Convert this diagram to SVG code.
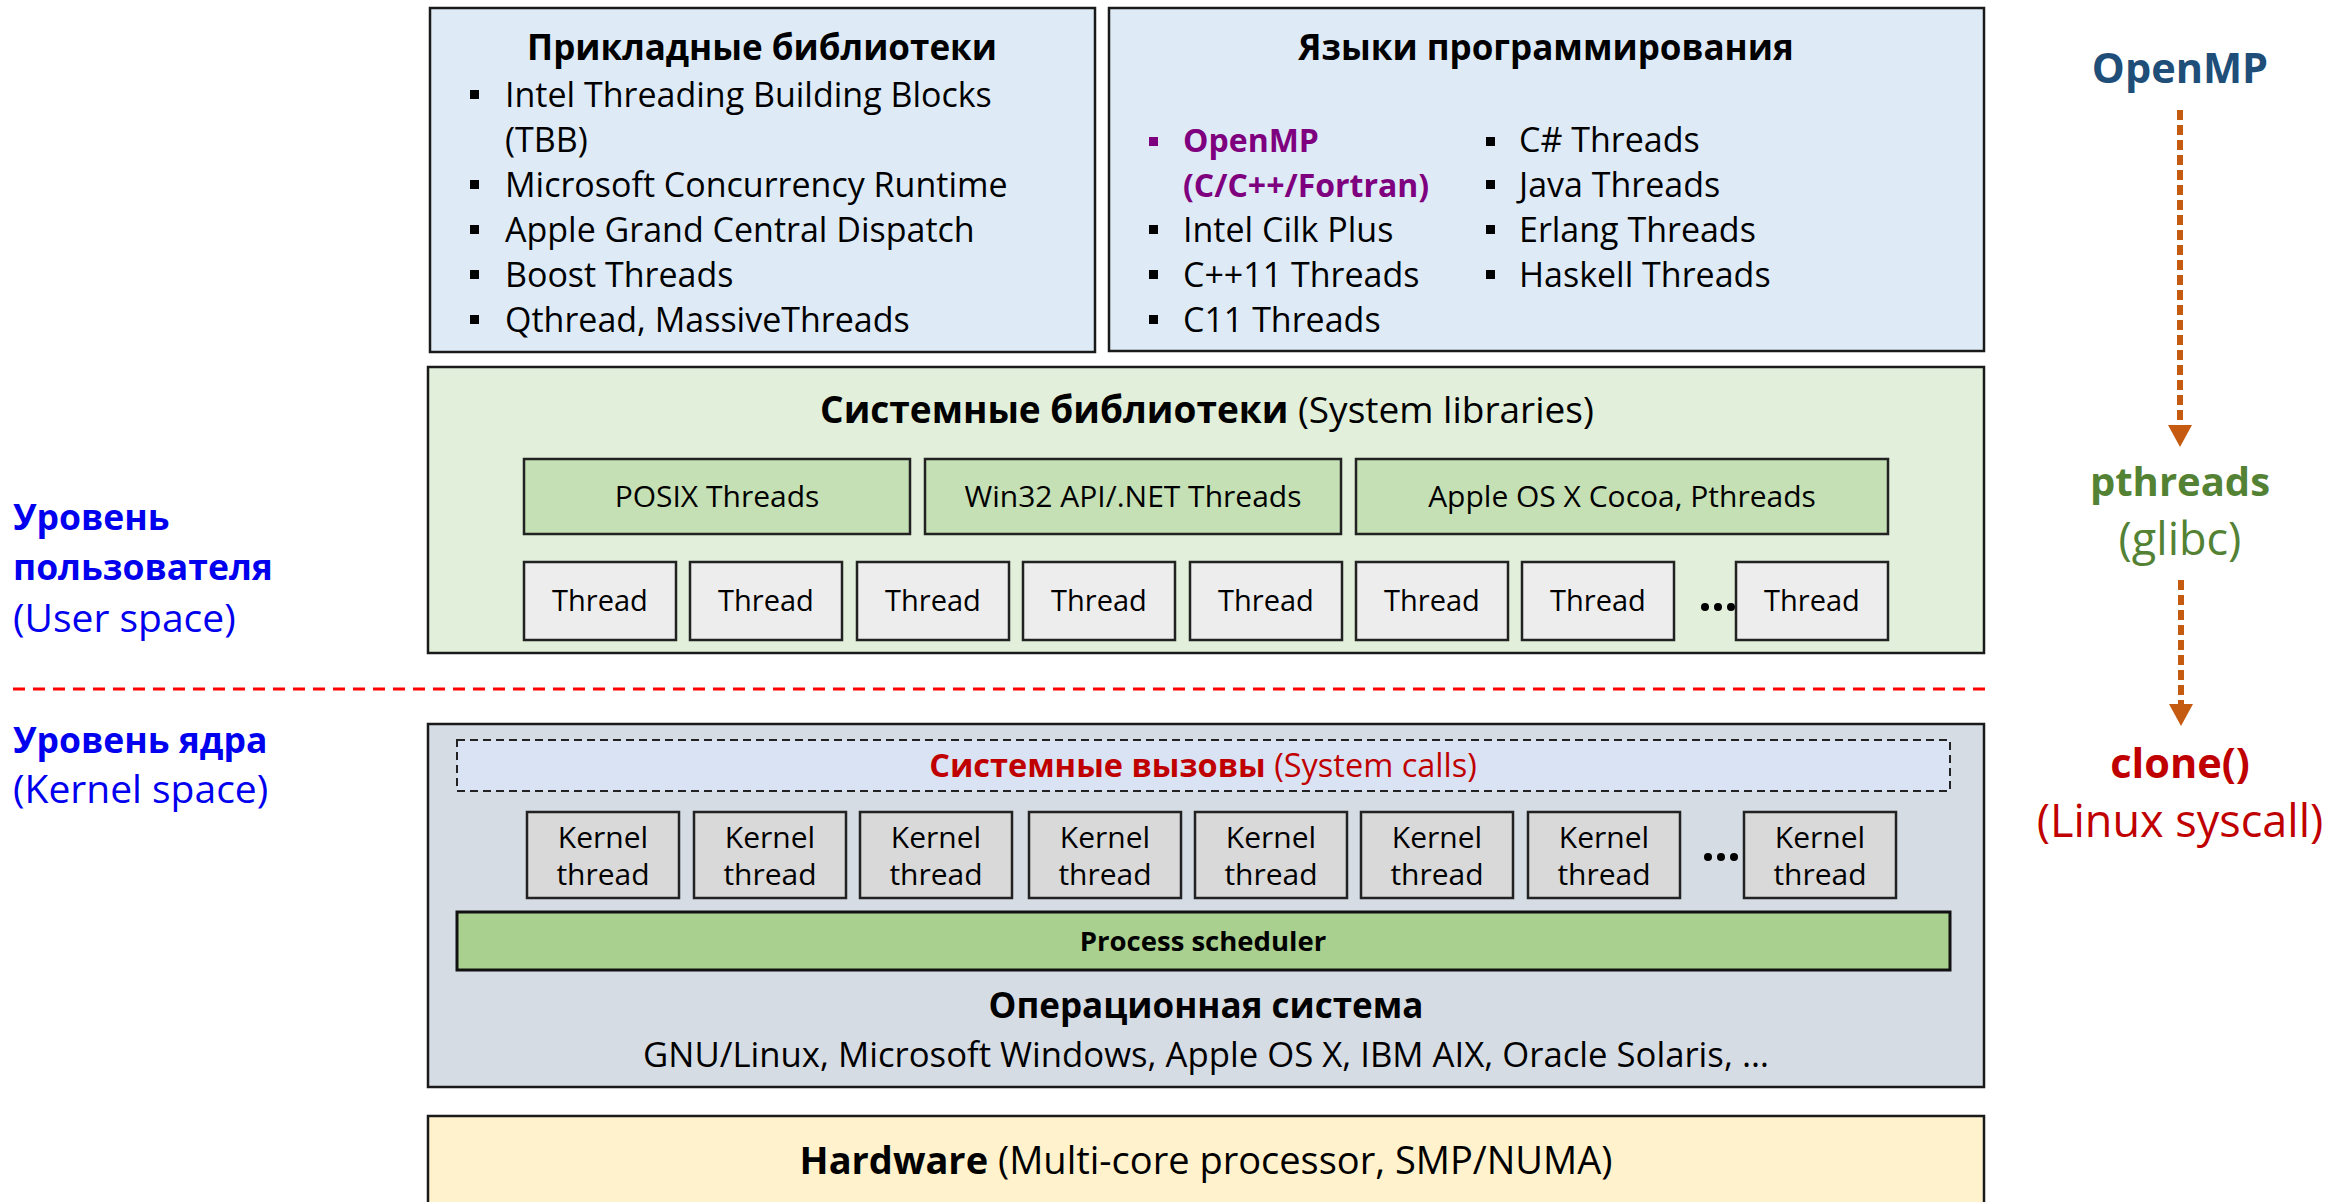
<svg xmlns="http://www.w3.org/2000/svg" width="2349" height="1202" viewBox="0 0 2349 1202">
<defs>
<style>
text{font-family:"Open Sans","Noto Sans","DejaVu Sans",sans-serif;fill:#000}
.box{stroke:#1a1a1a;stroke-width:2.5}
.blue{fill:#DEEBF7}
.green{fill:#E2EFDA}
.gbtn{fill:#C5E0B4;stroke:#222;stroke-width:2.5}
.thr{fill:#EDEDED;stroke:#222;stroke-width:2.5}
.kthr{fill:#D9D9D9;stroke:#222;stroke-width:2.5}
.h{font-size:35px;font-weight:bold}
.li{font-size:34px}
.lip{font-size:32px;font-weight:bold;fill:#7F007F}
.c{text-anchor:middle}
.t{font-size:30px}
.tt{font-size:29px}
.lblb{font-size:35.5px;fill:#0000EE;font-weight:bold}
.lbl{font-size:39px;fill:#0000EE}
.b{font-weight:bold}
.bul{fill:#000}
</style>
</defs>

<g id="applibs">
<rect class="box blue" x="430" y="8" width="665" height="344"/>
<text class="h c" x="762" y="60">Прикладные библиотеки</text>
<rect class="bul" x="470" y="90" width="9" height="9"/><text class="li" x="505" y="107">Intel Threading Building Blocks</text>
<text class="li" x="505" y="152">(TBB)</text>
<rect class="bul" x="470" y="180" width="9" height="9"/><text class="li" x="505" y="197">Microsoft Concurrency Runtime</text>
<rect class="bul" x="470" y="225" width="9" height="9"/><text class="li" x="505" y="242">Apple Grand Central Dispatch</text>
<rect class="bul" x="470" y="270" width="9" height="9"/><text class="li" x="505" y="287">Boost Threads</text>
<rect class="bul" x="470" y="315" width="9" height="9"/><text class="li" x="505" y="332">Qthread, MassiveThreads</text>
</g>

<g id="langs">
<rect class="box blue" x="1109" y="8" width="875" height="343"/>
<text class="h c" x="1546" y="60">Языки программирования</text>
<rect x="1149" y="137" width="9" height="9" fill="#7F007F"/><text class="lip" x="1183" y="152">OpenMP</text>
<text class="lip" x="1183" y="197">(C/C++/Fortran)</text>
<rect class="bul" x="1149" y="225" width="9" height="9"/><text class="li" x="1183" y="242">Intel Cilk Plus</text>
<rect class="bul" x="1149" y="270" width="9" height="9"/><text class="li" x="1183" y="287">C++11 Threads</text>
<rect class="bul" x="1149" y="315" width="9" height="9"/><text class="li" x="1183" y="332">C11 Threads</text>
<rect class="bul" x="1486" y="137" width="9" height="9"/><text class="li" x="1519" y="152">C# Threads</text>
<rect class="bul" x="1486" y="180" width="9" height="9"/><text class="li" x="1519" y="197">Java Threads</text>
<rect class="bul" x="1486" y="225" width="9" height="9"/><text class="li" x="1519" y="242">Erlang Threads</text>
<rect class="bul" x="1486" y="270" width="9" height="9"/><text class="li" x="1519" y="287">Haskell Threads</text>
</g>

<g id="syslibs">
<rect class="box green" x="428" y="367" width="1556" height="286"/>
<text class="c" x="1207" y="423" style="font-size:37px"><tspan font-weight="bold">Системные библиотеки</tspan> (System libraries)</text>
</g>
<g id="posix"><rect class="gbtn" x="524" y="459" width="386" height="75"/><text class="t c" x="717" y="507">POSIX Threads</text></g>
<g id="win32"><rect class="gbtn" x="925" y="459" width="416" height="75"/><text class="t c" x="1133" y="507">Win32 API/.NET Threads</text></g>
<g id="apple"><rect class="gbtn" x="1356" y="459" width="532" height="75"/><text class="t c" x="1622" y="507">Apple OS X Cocoa, Pthreads</text></g>

<g id="threads">
<g id="thread1"><rect class="thr" x="524" y="562" width="152" height="78"/><text class="tt c" x="600" y="611">Thread</text></g>
<g id="thread2"><rect class="thr" x="690" y="562" width="152" height="78"/><text class="tt c" x="766" y="611">Thread</text></g>
<g id="thread3"><rect class="thr" x="857" y="562" width="152" height="78"/><text class="tt c" x="933" y="611">Thread</text></g>
<g id="thread4"><rect class="thr" x="1023" y="562" width="152" height="78"/><text class="tt c" x="1099" y="611">Thread</text></g>
<g id="thread5"><rect class="thr" x="1190" y="562" width="152" height="78"/><text class="tt c" x="1266" y="611">Thread</text></g>
<g id="thread6"><rect class="thr" x="1356" y="562" width="152" height="78"/><text class="tt c" x="1432" y="611">Thread</text></g>
<g id="thread7"><rect class="thr" x="1522" y="562" width="152" height="78"/><text class="tt c" x="1598" y="611">Thread</text></g>
<circle cx="1705" cy="607" r="4"/><circle cx="1718" cy="607" r="4"/><circle cx="1731" cy="607" r="4"/>
<g id="thread8"><rect class="thr" x="1736" y="562" width="152" height="78"/><text class="tt c" x="1812" y="611">Thread</text></g>
</g>

<g id="labels">
<text class="lblb" x="13" y="530">Уровень</text>
<text class="lblb" x="13" y="580">пользователя</text>
<text class="lbl" x="13" y="632">(User space)</text>
<text class="lblb" x="13" y="753">Уровень ядра</text>
<text class="lbl" x="13" y="803">(Kernel space)</text>
</g>

<g id="kernel">
<rect class="box" x="428" y="724" width="1556" height="363" fill="#D6DCE4"/>
<text class="c b" x="1206" y="1018" style="font-size:35px">Операционная система</text>
<text class="c" x="1206" y="1067" style="font-size:34.7px">GNU/Linux, Microsoft Windows, Apple OS X, IBM AIX, Oracle Solaris, …</text>
</g>
<g id="syscalls">
<rect x="457" y="740" width="1493" height="51" fill="#DAE3F3" stroke="#222" stroke-width="2" stroke-dasharray="8,5"/>
<text class="c" x="1203" y="777" style="font-size:32.5px;fill:#C00000"><tspan font-weight="bold" fill="#C00000">Системные вызовы</tspan> (System calls)</text>
</g>
<g id="kthreads">
<g id="kt1"><rect class="kthr" x="527" y="812" width="152" height="86"/><text class="t c" x="603" y="848">Kernel</text><text class="t c" x="603" y="885">thread</text></g>
<g id="kt2"><rect class="kthr" x="694" y="812" width="152" height="86"/><text class="t c" x="770" y="848">Kernel</text><text class="t c" x="770" y="885">thread</text></g>
<g id="kt3"><rect class="kthr" x="860" y="812" width="152" height="86"/><text class="t c" x="936" y="848">Kernel</text><text class="t c" x="936" y="885">thread</text></g>
<g id="kt4"><rect class="kthr" x="1029" y="812" width="152" height="86"/><text class="t c" x="1105" y="848">Kernel</text><text class="t c" x="1105" y="885">thread</text></g>
<g id="kt5"><rect class="kthr" x="1195" y="812" width="152" height="86"/><text class="t c" x="1271" y="848">Kernel</text><text class="t c" x="1271" y="885">thread</text></g>
<g id="kt6"><rect class="kthr" x="1361" y="812" width="152" height="86"/><text class="t c" x="1437" y="848">Kernel</text><text class="t c" x="1437" y="885">thread</text></g>
<g id="kt7"><rect class="kthr" x="1528" y="812" width="152" height="86"/><text class="t c" x="1604" y="848">Kernel</text><text class="t c" x="1604" y="885">thread</text></g>
<circle cx="1708" cy="857" r="4"/><circle cx="1721" cy="857" r="4"/><circle cx="1734" cy="857" r="4"/>
<g id="kt8"><rect class="kthr" x="1744" y="812" width="152" height="86"/><text class="t c" x="1820" y="848">Kernel</text><text class="t c" x="1820" y="885">thread</text></g>
</g>
<g id="scheduler">
<rect x="457" y="912" width="1493" height="58" fill="#A9D08E" stroke="#111" stroke-width="3"/>
<text class="c b" x="1203" y="951" style="font-size:27.5px">Process scheduler</text>
</g>

<g id="hardware">
<rect class="box" x="428" y="1116" width="1556" height="100" fill="#FFF2CC"/>
<text class="c" x="1206" y="1174" style="font-size:38px"><tspan font-weight="bold">Hardware</tspan> (Multi-core processor, SMP/NUMA)</text>
</g>

<g id="right">
<g id="openmp"><text class="c b" x="2180" y="83" style="font-size:41.5px;fill:#1F4E79">OpenMP</text></g>
<g id="pthreads"><text class="c b" x="2180" y="496" style="font-size:40px;fill:#548235">pthreads</text>
<text class="c" x="2180" y="555" style="font-size:45px;fill:#548235">(glibc)</text></g>
<g id="clone"><text class="c b" x="2180" y="778" style="font-size:41.5px;fill:#C00000">clone()</text>
<text class="c" x="2180" y="837" style="font-size:45px;fill:#C00000">(Linux syscall)</text></g>
</g>

<g id="connectors">
<line x1="13" y1="689" x2="1985" y2="689" stroke="#FF0000" stroke-width="3" stroke-dasharray="12,8"/>
<line x1="2180" y1="110" x2="2180" y2="430" stroke="#C55A11" stroke-width="6" stroke-dasharray="10,5"/>
<path d="M2168,425 L2192,425 L2180,447 Z" fill="#C55A11"/>
<line x1="2181" y1="580" x2="2181" y2="708" stroke="#C55A11" stroke-width="6" stroke-dasharray="10,5"/>
<path d="M2169,704 L2193,704 L2181,726 Z" fill="#C55A11"/>
</g>
</svg>
